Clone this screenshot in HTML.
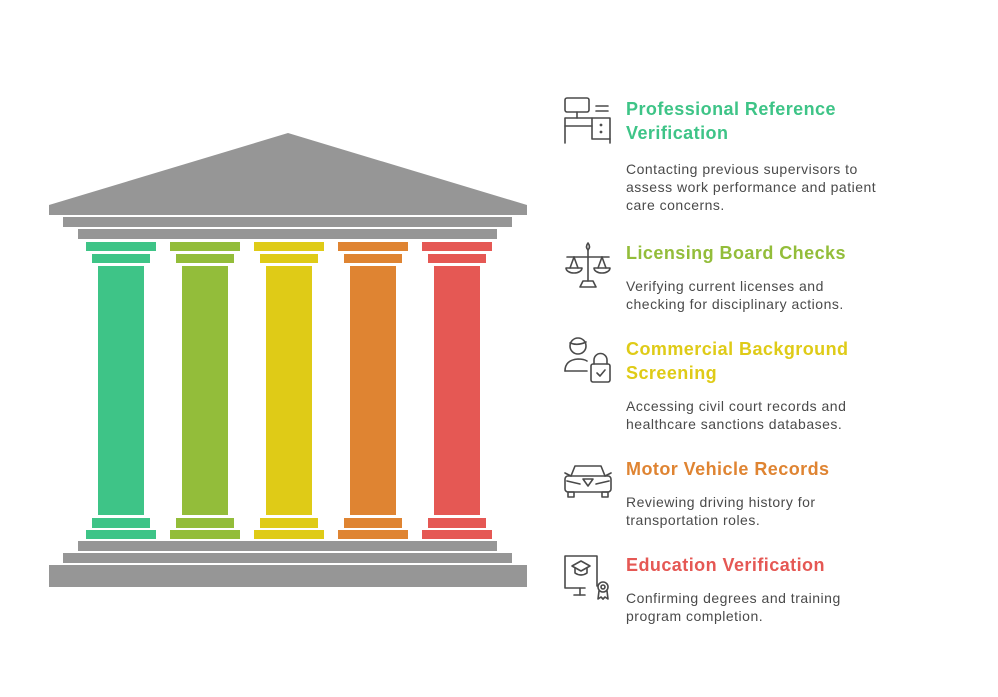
<!DOCTYPE html>
<html><head><meta charset="utf-8"><style>html,body{margin:0;padding:0;background:#fff}svg{display:block}</style></head><body>
<svg width="998" height="697" viewBox="0 0 998 697" xmlns="http://www.w3.org/2000/svg">
<g fill="#969696">
<polygon points="49,205 288,133 527,205 527,215 49,215"/>
<rect x="63" y="217" width="449" height="10"/>
<rect x="78" y="229" width="419" height="10"/>
<rect x="78" y="541" width="419" height="10"/>
<rect x="63" y="553" width="449" height="10"/>
<rect x="49" y="565" width="478" height="22"/>
</g>
<g fill="#3EC487"><rect x="86" y="242" width="70" height="9"/><rect x="92" y="254" width="58" height="9"/><rect x="98" y="266" width="46" height="249"/><rect x="92" y="518" width="58" height="10"/><rect x="86" y="530" width="70" height="9"/></g>
<g fill="#93BD3A"><rect x="170" y="242" width="70" height="9"/><rect x="176" y="254" width="58" height="9"/><rect x="182" y="266" width="46" height="249"/><rect x="176" y="518" width="58" height="10"/><rect x="170" y="530" width="70" height="9"/></g>
<g fill="#DFCB17"><rect x="254" y="242" width="70" height="9"/><rect x="260" y="254" width="58" height="9"/><rect x="266" y="266" width="46" height="249"/><rect x="260" y="518" width="58" height="10"/><rect x="254" y="530" width="70" height="9"/></g>
<g fill="#DF8432"><rect x="338" y="242" width="70" height="9"/><rect x="344" y="254" width="58" height="9"/><rect x="350" y="266" width="46" height="249"/><rect x="344" y="518" width="58" height="10"/><rect x="338" y="530" width="70" height="9"/></g>
<g fill="#E55854"><rect x="422" y="242" width="70" height="9"/><rect x="428" y="254" width="58" height="9"/><rect x="434" y="266" width="46" height="249"/><rect x="428" y="518" width="58" height="10"/><rect x="422" y="530" width="70" height="9"/></g>

<g fill="none" stroke="#4a4a4a" stroke-width="1.6" stroke-linecap="round" stroke-linejoin="round">
<rect x="565" y="98" width="24" height="14" rx="2"/><line x1="577" y1="112" x2="577" y2="118"/><line x1="596" y1="106" x2="608" y2="106"/><line x1="596" y1="111" x2="608" y2="111"/>
<polyline points="565,143 565,118 610,118 610,143"/><line x1="565" y1="126" x2="592" y2="126"/><polyline points="592,118 592,139 610,139"/><circle cx="601" cy="125" r="0.6"/><circle cx="601" cy="132" r="0.6"/>
<line x1="567" y1="257" x2="609" y2="257"/><line x1="588" y1="250" x2="588" y2="281"/><path d="M588,243 q-3,4 0,7 q3,-3 0,-7z"/>
<path d="M566,268 h16 a8,5 0 0 1 -16,0z"/><path d="M594,268 h16 a8,5 0 0 1 -16,0z"/><line x1="574" y1="257" x2="570" y2="268"/><line x1="574" y1="257" x2="578" y2="268"/><line x1="602" y1="257" x2="598" y2="268"/><line x1="602" y1="257" x2="606" y2="268"/>
<path d="M580,287 h16 l-3,-6 h-10z"/>
<circle cx="578" cy="346" r="8"/><path d="M570,343 q8,3 16,-1"/><path d="M565,371 q0,-11 13,-12 q6,0 9,2"/><line x1="565" y1="371" x2="587" y2="371"/>
<rect x="591" y="364" width="19" height="18" rx="2"/><path d="M594,364 v-4 a6.5,6.5 0 0 1 13,0 v4"/><polyline points="597,373 600,376 605,370"/>
<path d="M571,476 l4,-10 h26 l4,10"/><rect x="565" y="476" width="46" height="16" rx="3"/><line x1="565" y1="473" x2="571" y2="476"/><line x1="611" y1="473" x2="605" y2="476"/>
<polygon points="583,479 593,479 588,486"/><line x1="567" y1="481" x2="580" y2="484"/><line x1="609" y1="481" x2="596" y2="484"/><rect x="568" y="492" width="6" height="5"/><rect x="602" y="492" width="6" height="5"/>
<path d="M597,586 v-30 h-32 v32 h20"/><line x1="580" y1="588" x2="580" y2="595"/><line x1="574" y1="595" x2="585" y2="595"/>
<polygon points="572,566 581,561 590,566 581,571"/><path d="M575,568 v5 q6,4 12,0 v-5"/>
<circle cx="603" cy="587" r="5"/><circle cx="603" cy="587" r="2"/><polyline points="599,591 598,599 601,597 603,599"/><polyline points="607,591 608,599 605,597 603,599"/>
</g>

<g font-family="Liberation Sans, sans-serif">
<g font-size="18" font-weight="bold" letter-spacing="0.45">
<text x="626" y="115" fill="#3EC487">Professional Reference</text>
<text x="626" y="139" fill="#3EC487">Verification</text>
<text x="626" y="259" fill="#93BD3A">Licensing Board Checks</text>
<text x="626" y="355" fill="#DFCB17">Commercial Background</text>
<text x="626" y="379" fill="#DFCB17">Screening</text>
<text x="626" y="475" fill="#DF8432">Motor Vehicle Records</text>
<text x="626" y="571" fill="#E55854">Education Verification</text>
</g>
<g font-size="14" fill="#4a4a4a" letter-spacing="0.5">
<text x="626" y="174">Contacting previous supervisors to</text>
<text x="626" y="192">assess work performance and patient</text>
<text x="626" y="210">care concerns.</text>
<text x="626" y="291">Verifying current licenses and</text>
<text x="626" y="309">checking for disciplinary actions.</text>
<text x="626" y="411">Accessing civil court records and</text>
<text x="626" y="429">healthcare sanctions databases.</text>
<text x="626" y="507">Reviewing driving history for</text>
<text x="626" y="525">transportation roles.</text>
<text x="626" y="603">Confirming degrees and training</text>
<text x="626" y="621">program completion.</text>
</g>
</g>
</svg>
</body></html>
